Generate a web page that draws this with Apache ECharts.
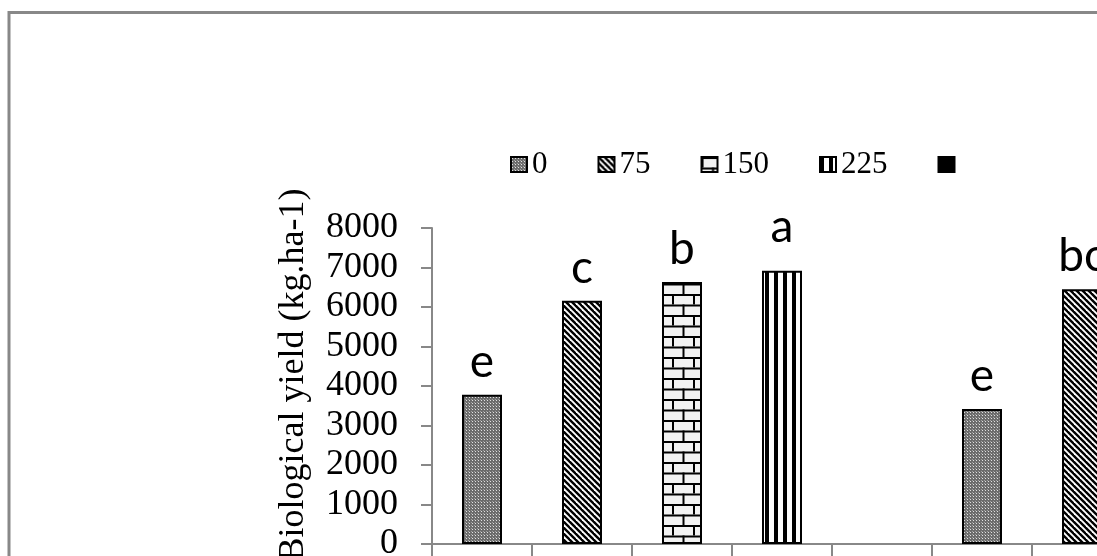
<!DOCTYPE html>
<html>
<head>
<meta charset="utf-8">
<script src="https://cdn.jsdelivr.net/npm/echarts@6/dist/echarts.min.js"></script>
<style>
html,body{margin:0;padding:0;background:#fff;}
#chart{width:1097px;height:556px;}
</style>
</head>
<body>
<div id="chart"></div>
<script>
// ---- data ----
const categories = ['G1', 'G2', 'G3', 'G4', 'G5', 'G6', 'G7'];
const seriesNames = ['0', '75', '150', '225', ' '];
const values0   = [3780, null, null, null, null, 3420, null];
const values75  = [null, 6160, null, null, null, null, 6450];
const values150 = [null, null, 6630, null, null, null, null];
const values225 = [null, null, null, 6920, null, null, null];
const valuesBlk = [null, null, null, null, null, null, null];
const letters0   = ['e', '', '', '', '', 'e', ''];
const letters75  = ['', 'c', '', '', '', '', 'bc'];
const letters150 = ['', '', 'b', '', '', '', ''];
const letters225 = ['', '', '', 'a', '', '', ''];
const lettersBlk = ['', '', '', '', '', '', ''];
const yTicks = [0, 1000, 2000, 3000, 4000, 5000, 6000, 7000, 8000];
const yTitle = 'Biological yield (kg.ha-1)';

// ---- patterns ----
function canvasOf(w, h, draw) {
  const c = document.createElement('canvas');
  c.width = w; c.height = h;
  const ctx = c.getContext('2d');
  draw(ctx, w, h);
  return c;
}
const patDots = canvasOf(3, 3, (ctx) => {
  ctx.fillStyle = '#6c6c6c'; ctx.fillRect(0, 0, 3, 3);
  ctx.fillStyle = '#e0e0e0'; ctx.fillRect(1, 1, 1, 1);
  ctx.fillStyle = '#a0a0a0'; ctx.fillRect(0, 0, 1, 1);
});
const patDiag = canvasOf(6, 6, (ctx, w, h) => {
  ctx.fillStyle = '#fff'; ctx.fillRect(0, 0, w, h);
  ctx.strokeStyle = '#000'; ctx.lineWidth = 2.4;
  for (let x0 = -6; x0 <= 6; x0 += 6) {
    ctx.beginPath(); ctx.moveTo(x0 - 1, -1); ctx.lineTo(x0 + 7, 7); ctx.stroke();
  }
});
const patBrick = canvasOf(21, 21, (ctx, w, h) => {
  ctx.fillStyle = '#f2f2f2'; ctx.fillRect(0, 0, w, h);
  ctx.fillStyle = '#000';
  ctx.fillRect(0, 0, w, 2);
  ctx.fillRect(0, 10.5, w, 2);
  ctx.fillRect(0, 0, 2, 10.5);
  ctx.fillRect(10.5, 10.5, 2, 10.5);
});
const patVert = canvasOf(9, 4, (ctx, w, h) => {
  ctx.fillStyle = '#fff'; ctx.fillRect(0, 0, w, h);
  ctx.fillStyle = '#000'; ctx.fillRect(0, 0, 4, h);
});
const fills = [
  { image: patDots, repeat: 'repeat' },
  { image: patDiag, repeat: 'repeat' },
  { image: patBrick, repeat: 'repeat' },
  { image: patVert, repeat: 'repeat' },
  '#000'
];
const allValues = [values0, values75, values150, values225, valuesBlk];
const allLetters = [letters0, letters75, letters150, letters225, lettersBlk];

const chart = echarts.init(document.getElementById('chart'), null, { renderer: 'canvas' });
const series = seriesNames.map((name, i) => ({
  name: name,
  type: 'bar',
  data: allValues[i],
  barWidth: 40,
  barGap: '-100%',
  itemStyle: { color: fills[i], borderColor: '#000', borderWidth: 2 },
  label: {
    show: true,
    position: 'top',
    distance: i === 3 ? 20 : 10,
    fontFamily: 'Lato',
    fontSize: 46,
    color: '#000',
    formatter: (p) => allLetters[i][p.dataIndex] || ''
  },
  animation: false
}));

chart.setOption({
  animation: false,
  backgroundColor: '#fff',
  graphic: [{
    type: 'rect',
    shape: { x: 9, y: 12.5, width: 1200, height: 700 },
    style: { fill: 'none', stroke: '#888', lineWidth: 3 },
    silent: true
  }],
  legend: {
    data: seriesNames,
    left: 505,
    top: 144,
    itemWidth: 16,
    itemHeight: 15,
    itemGap: 50,
    icon: 'rect',
    textStyle: { fontFamily: 'Liberation Serif', fontSize: 31, color: '#000' }
  },
  grid: { left: 432, top: 228, width: 700, height: 316, containLabel: false, outerBoundsMode: 'none' },
  xAxis: {
    type: 'category',
    data: categories,
    axisLine: { lineStyle: { color: '#888', width: 2 } },
    axisTick: { show: true, length: 30, lineStyle: { color: '#888', width: 2 } },
    axisLabel: { show: false }
  },
  yAxis: {
    type: 'value',
    min: yTicks[0],
    max: yTicks[yTicks.length - 1],
    interval: 1000,
    name: yTitle,
    nameLocation: 'middle',
    nameGap: 120,
    nameTextStyle: { fontFamily: 'Liberation Serif', fontSize: 36, color: '#000', padding: [0, 0, 0, 22] },
    splitLine: { show: false },
    axisLine: { show: true, lineStyle: { color: '#888', width: 2 } },
    axisTick: { show: true, length: 11, lineStyle: { color: '#888', width: 2 } },
    axisLabel: {
      margin: 34, fontFamily: 'Liberation Serif', fontSize: 36, color: '#000',
      formatter: (v) => String(v)
    }
  },
  series: series
});
</script>
</body>
</html>
